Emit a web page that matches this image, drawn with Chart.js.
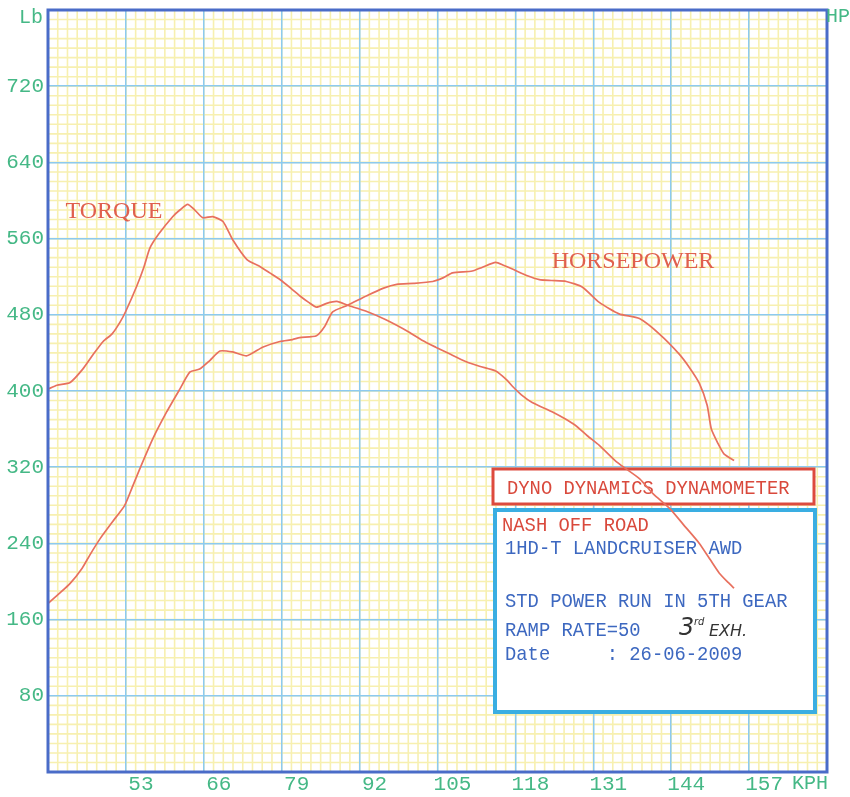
<!DOCTYPE html>
<html>
<head>
<meta charset="utf-8">
<script src="https://cdn.jsdelivr.net/npm/chart.js@4"></script>
<style>
    html, body { margin: 0; padding: 0; background: #fff; }
    #wrap { width: 850px; height: 797px; }
</style>
</head>
<body>
<div id="wrap"><canvas id="chart"></canvas></div>
<script>
// torque curve (kph / lb)
const torqueKph = [40, 41.5, 43.7, 45.8, 47.5, 49.2, 50.7, 52, 53, 54.8, 56, 57, 58.5, 60.8, 62, 63.3, 64.5, 65.8,
    67.5, 69.2, 70.8, 73.2, 75.3, 77, 78.7, 80.5, 82, 83.5, 84.8, 86.5, 88.2, 90, 93, 96.3, 100.2, 102.5, 104.7,
    107, 109.7, 112, 114.7, 116.5, 117.5, 119, 120.8, 124.2, 126.5, 128.2, 130, 132, 135, 138.7, 141, 143.7, 146,
    148.7, 150.5, 152, 153.5, 154.5];
const torqueLb = [402, 406, 409, 423, 438, 452, 460, 472, 484, 510, 530, 550, 565, 583, 590, 596, 590, 582,
    583, 578, 559, 538, 531, 524, 517, 508, 500, 493, 488, 492, 494, 490, 484, 475, 462, 453, 446,
    439, 431, 426, 421, 412, 405, 396, 388, 378, 370, 363, 353, 343, 325, 308, 292, 277, 260,
    240, 223, 209, 199, 193];

// horsepower curve (kph / hp)
const hpKph = [40, 42, 43.7, 45.7, 47, 48.7, 50.8, 52.8, 54, 55.3, 57.5, 59.8, 62, 63.7, 65.3, 67, 68.7, 70.8,
    73.2, 75.8, 78.7, 80.8, 82, 84.8, 86.2, 87.5, 90, 93.2, 96, 98.2, 101, 104.2, 106, 107.5, 110.8, 112.5, 114.7,
    116, 117.5, 120, 122, 124, 126.5, 129.2, 132, 135.3, 138.7, 142, 145.3, 147, 148.7, 150, 150.7, 151.8, 152.8,
    154.5];
const hpVal = [177, 188, 198, 214, 228, 245, 263, 280, 298, 318, 350, 378, 402, 420, 423, 432, 442, 441,
    437, 446, 452, 454, 456, 458, 468, 483, 490, 500, 508, 512, 513, 515, 519, 524, 526, 530, 535,
    532, 528, 521, 517, 516, 515, 509, 493, 481, 476, 460, 439, 425, 408, 385, 360, 345, 334,
    327];

// axis ticks
const kphTicks = [53, 66, 79, 92, 105, 118, 131, 144, 157];
const lbTicks = [80, 160, 240, 320, 400, 480, 560, 640, 720];

const infoLines = ["NASH OFF ROAD", "1HD-T LANDCRUISER AWD", "", "STD POWER RUN IN 5TH GEAR", "RAMP RATE=50", "Date     : 26-06-2009"];

const GREEN = "#45b886";
const LINE = "#e8705e";
const FRAME = "#4a6cc8";
const MAJOR = "#8ccaf0";
const MINOR = "#f7f0b0";
const BLUE_TXT = "#3d68c0";
const RED_TXT = "#d9493c";
const MONO = "'Liberation Mono', 'DejaVu Sans Mono', monospace";
const CHAR_W = 11.3;

function toPoints(xs, ys) {
    return xs.map((x, i) => ({ x: x, y: ys[i] }));
}

// squeezed mono text, the printer font is tall and narrow
function monoText(ctx, t, x, y) {
    ctx.fillText(t, x, y, t.length * CHAR_W);
}

// yellow graph-paper underneath everything
const paper = {
    id: "paper",
    beforeDraw(chart) {
        const ctx = chart.ctx;
        const a = chart.chartArea;
        const sx = chart.scales.x, sy = chart.scales.y;
        ctx.save();
        ctx.fillStyle = "#fff";
        ctx.fillRect(0, 0, chart.width, chart.height);
        ctx.strokeStyle = MINOR;
        ctx.lineWidth = 1.6;
        ctx.beginPath();
        for (let v = 40; v <= 170; v += 13 / 8) {
            const px = sx.getPixelForValue(v);
            ctx.moveTo(px, a.top);
            ctx.lineTo(px, a.bottom);
        }
        for (let v = 0; v <= 800; v += 10) {
            const py = sy.getPixelForValue(v);
            ctx.moveTo(a.left, py);
            ctx.lineTo(a.right, py);
        }
        ctx.stroke();
        ctx.restore();
    }
};

// printed boxes sit under the curves
const boxes = {
    id: "boxes",
    beforeDatasetsDraw(chart) {
        const ctx = chart.ctx;
        ctx.save();
        // red title box
        ctx.fillStyle = "#fff";
        ctx.fillRect(493, 469, 321, 35);
        ctx.strokeStyle = "#dd4a3e";
        ctx.lineWidth = 3;
        ctx.strokeRect(493, 469, 321, 35);
        ctx.fillStyle = RED_TXT;
        ctx.font = "21px " + MONO;
        ctx.textBaseline = "middle";
        ctx.textAlign = "left";
        monoText(ctx, "DYNO DYNAMICS DYNAMOMETER", 507, 488);

        // blue info box
        ctx.fillStyle = "#fff";
        ctx.fillRect(495, 510, 320, 202);
        ctx.strokeStyle = "#3aaee2";
        ctx.lineWidth = 4;
        ctx.strokeRect(495, 510, 320, 202);

        const ys = [525, 548, 574, 601, 630, 654];
        infoLines.forEach((t, i) => {
            ctx.fillStyle = i === 0 ? RED_TXT : BLUE_TXT;
            monoText(ctx, t, i === 0 ? 502 : 505, ys[i]);
        });

        // handwritten note
        ctx.fillStyle = "#333";
        ctx.font = "italic 24px 'DejaVu Sans', sans-serif";
        ctx.fillText("3", 679, 629);
        ctx.font = "italic 10px 'DejaVu Sans', sans-serif";
        ctx.fillText("rd", 694, 622);
        ctx.font = "italic 16px 'DejaVu Sans', sans-serif";
        ctx.fillText("EXH.", 709, 632);
        ctx.restore();
    }
};

// frame, curve names and axis units
const frame = {
    id: "frame",
    afterDraw(chart) {
        const ctx = chart.ctx;
        const a = chart.chartArea;
        ctx.save();
        ctx.strokeStyle = FRAME;
        ctx.lineWidth = 3;
        ctx.strokeRect(a.left, a.top, a.right - a.left, a.bottom - a.top);

        ctx.fillStyle = "#e0604e";
        ctx.font = "24px 'Liberation Serif', 'DejaVu Serif', serif";
        ctx.textBaseline = "middle";
        ctx.textAlign = "center";
        ctx.fillText("TORQUE", 114, 212);
        ctx.fillText("HORSEPOWER", 633, 262, 172);

        ctx.fillStyle = GREEN;
        ctx.font = "20px " + MONO;
        ctx.fillText("Lb", 31, 18);
        ctx.fillText("HP", 838, 17);
        ctx.fillText("KPH", 810, 784);
        ctx.restore();
    }
};

function main() {
    Chart.defaults.font.family = MONO;
    Chart.defaults.font.size = 21;

    const ctx = document.getElementById("chart").getContext("2d");

    new Chart(ctx, {
        type: "line",
        data: {
            datasets: [
                {
                    label: "Torque",
                    data: toPoints(torqueKph, torqueLb),
                    borderColor: LINE,
                    borderWidth: 1.7,
                    pointRadius: 0,
                    tension: 0.2
                },
                {
                    label: "Horsepower",
                    data: toPoints(hpKph, hpVal),
                    borderColor: LINE,
                    borderWidth: 1.7,
                    pointRadius: 0,
                    tension: 0.2
                }
            ]
        },
        options: {
            responsive: true,
            maintainAspectRatio: false,
            animation: false,
            layout: { padding: { top: 10, right: 23, left: 0, bottom: 0 } },
            plugins: {
                legend: { display: false },
                tooltip: { enabled: false }
            },
            scales: {
                x: {
                    type: "linear",
                    min: 40,
                    max: 170,
                    afterBuildTicks: s => { s.ticks = [40].concat(kphTicks, [170]).map(v => ({ value: v })); },
                    afterFit: s => { s.height = 25; s.paddingLeft = 0; s.paddingRight = 0; },
                    grid: { color: MAJOR, lineWidth: 1.5, drawTicks: false },
                    border: { display: false },
                    ticks: {
                        color: GREEN,
                        padding: 0,
                        labelOffset: 15,
                        maxRotation: 0,
                        autoSkip: false,
                        callback: v => kphTicks.includes(v) ? String(v) : ""
                    }
                },
                y: {
                    min: 0,
                    max: 800,
                    afterBuildTicks: s => { s.ticks = [0].concat(lbTicks, [800]).map(v => ({ value: v })); },
                    afterFit: s => { s.width = 48; s.paddingTop = 0; s.paddingBottom = 0; },
                    grid: { color: MAJOR, lineWidth: 1.5, drawTicks: false },
                    border: { display: false },
                    ticks: {
                        color: GREEN,
                        padding: 4,
                        autoSkip: false,
                        callback: v => lbTicks.includes(v) ? String(v) : ""
                    }
                }
            }
        },
        plugins: [paper, boxes, frame]
    });
}

main();
</script>
</body>
</html>
